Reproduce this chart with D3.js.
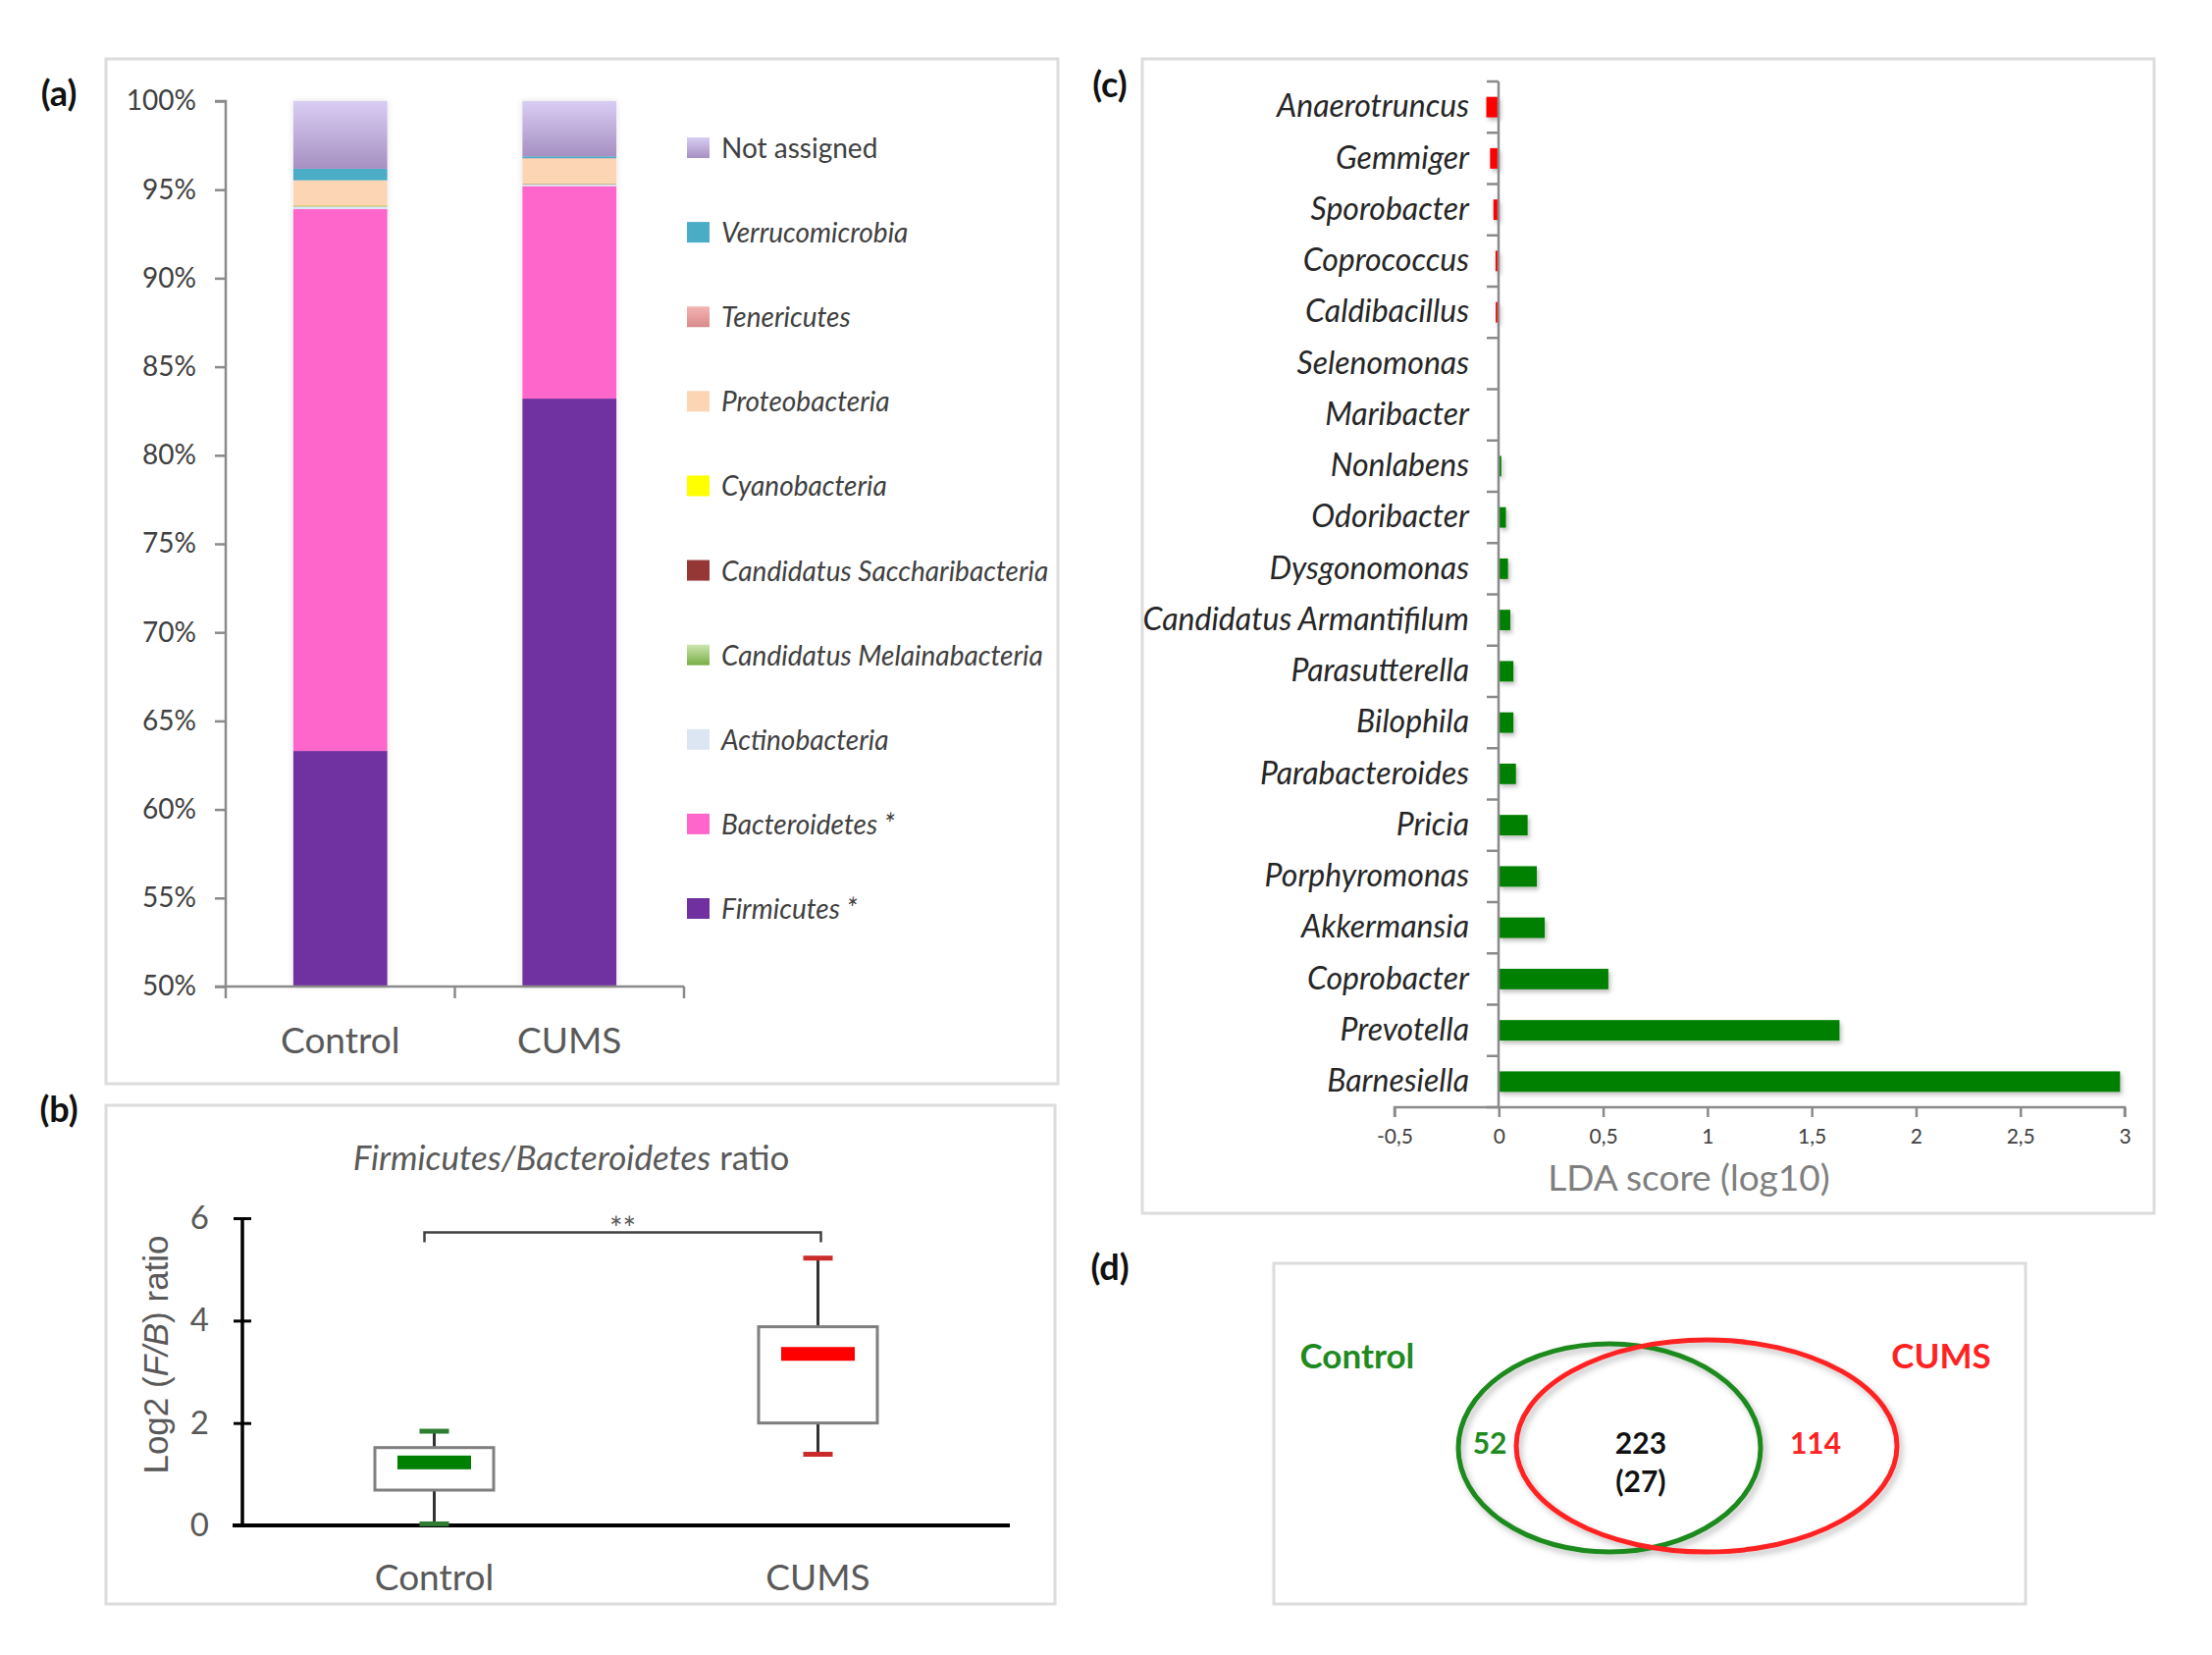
<!DOCTYPE html>
<html><head><meta charset="utf-8">
<script src="https://cdn.jsdelivr.net/npm/d3@7"></script>
<style>
html,body{margin:0;padding:0;background:#fff;}
svg{display:block;font-family:Lato,'Open Sans',sans-serif;}
</style></head>
<body>
<svg id="chart" width="2254" height="1686"></svg>
<script>
// ---------- DATA ----------
// (a) relative abundance of phyla (%), stacked bottom -> top
const groups = ["Control", "CUMS"];
const phyla = ["Firmicutes *", "Bacteroidetes *", "Actinobacteria", "Candidatus Melainabacteria",
  "Candidatus Saccharibacteria", "Cyanobacteria", "Proteobacteria", "Tenericutes", "Verrucomicrobia", "Not assigned"];
const controlPct = [63.3, 30.6, 0.15, 0.02, 0.02, 0.02, 1.4, 0.02, 0.65, 3.82];
const cumsPct    = [83.2, 12.0, 0.10, 0.02, 0.02, 0.02, 1.4, 0.02, 0.10, 3.12];
const pctTicks = [50, 55, 60, 65, 70, 75, 80, 85, 90, 95, 100];

// (b) Firmicutes/Bacteroidetes log2 ratio box plot
const boxGroups = ["Control", "CUMS"];
const boxMin    = [0.03, 1.39];
const boxQ1     = [0.69, 2.00];
const boxMedian = [1.23, 3.35];
const boxQ3     = [1.52, 3.88];
const boxMax    = [1.84, 5.22];
const ratioTicks = [0, 2, 4, 6];
const sigLevel = 5.72;
const sigLabel = "**";

// (c) LDA scores
const genera = ["Anaerotruncus", "Gemmiger", "Sporobacter", "Coprococcus", "Caldibacillus", "Selenomonas",
  "Maribacter", "Nonlabens", "Odoribacter", "Dysgonomonas", "Candidatus Armantifilum", "Parasutterella",
  "Bilophila", "Parabacteroides", "Pricia", "Porphyromonas", "Akkermansia", "Coprobacter", "Prevotella", "Barnesiella"];
const ldaScores = [-0.06, -0.042, -0.026, -0.016, -0.015, 0, 0, 0.012, 0.034, 0.044, 0.055, 0.07,
  0.07, 0.082, 0.138, 0.182, 0.22, 0.525, 1.633, 2.978];
const ldaTicks = [-0.5, 0, 0.5, 1, 1.5, 2, 2.5, 3];

// (d) Venn counts
const vennSets = ["Control", "CUMS"];
const vennUnique = [52, 114];
const vennShared = 223;
const vennSharedSub = 27;

// ---------- STYLES ----------
const phylaColors = ["#7030a0", "#ff66cc", "#dce6f2", "url(#gMel)", "#953735", "#ffff00", "#fcd5b5", "url(#gTen)", "#4bacc6", "url(#gNA)"];
const greenC = "#008000", redC = "#ff0000";
const vennGreen = "#1f8a1f", vennRed = "#ff2222";

const svg = d3.select("#chart");
const defs = svg.append("defs");
function vgrad(id, c1, c2) {
  const g = defs.append("linearGradient").attr("id", id).attr("x1", 0).attr("y1", 0).attr("x2", 0).attr("y2", 1);
  g.append("stop").attr("offset", "0%").attr("stop-color", c1);
  g.append("stop").attr("offset", "100%").attr("stop-color", c2);
}
vgrad("gNA", "#d9cdf3", "#a690c2");
vgrad("gTen", "#f6b4b4", "#d88a8a");
vgrad("gMel", "#cde6b0", "#78ae45");
function shadow(id, dx, dy, sd, op) {
  const f = defs.append("filter").attr("id", id).attr("x", "-20%").attr("y", "-40%").attr("width", "140%").attr("height", "180%");
  f.append("feDropShadow").attr("dx", dx).attr("dy", dy).attr("stdDeviation", sd)
    .attr("flood-color", "#000").attr("flood-opacity", op);
}
shadow("shBar", 0, 0, 3, 0.12);
shadow("shLda", 2, 3, 2, 0.25);
shadow("shVenn", 3, 4, 3, 0.25);

function frame(x0, y0, x1, y1) {
  svg.append("rect").attr("x", x0).attr("y", y0).attr("width", x1 - x0).attr("height", y1 - y0)
    .attr("fill", "#fff").attr("stroke", "#dcdcdc").attr("stroke-width", 3);
}
function panelLabel(t, x, y) {
  svg.append("text").attr("x", x).attr("y", y).attr("text-anchor", "middle")
    .attr("font-size", 36).attr("font-weight", "bold").attr("fill", "#111").text(t);
}

// ================= (a) =================
frame(108, 60, 1078, 1104);
panelLabel("(a)", 60, 108);
{
  const x = d3.scaleBand().domain(groups).range([230, 697]);
  const y = d3.scaleLinear().domain([50, 100]).range([1005, 103]).clamp(true);
  const rows = groups.map((g, i) => {
    const r = { group: g };
    const vals = i === 0 ? controlPct : cumsPct;
    phyla.forEach((p, j) => r[p] = vals[j]);
    return r;
  });
  const series = d3.stack().keys(phyla)(rows);
  const barW = x.bandwidth() * 0.41;
  const gBars = svg.append("g").attr("filter", "url(#shBar)");
  series.forEach((s, k) => {
    gBars.selectAll(null).data(s).join("rect")
      .attr("x", d => x(d.data.group) + (x.bandwidth() - barW) / 2)
      .attr("width", barW)
      .attr("y", d => y(d[1]))
      .attr("height", d => Math.max(0, y(d[0]) - y(d[1])))
      .attr("fill", phylaColors[k]);
  });
  const ax = svg.append("g").attr("transform", "translate(230,0)")
    .call(d3.axisLeft(y).tickValues(pctTicks).tickFormat(d => d + "%").tickSize(11).tickPadding(19));
  ax.selectAll("text").attr("font-size", 28).attr("fill", "#404040").attr("font-family", "Lato");
  const xa = svg.append("g").attr("transform", "translate(0,1005)")
    .call(d3.axisBottom(x).tickSize(0).tickPadding(42));
  xa.selectAll("text").attr("font-size", 37).attr("fill", "#595959").attr("font-family", "Lato");
  const bnd = [x.range()[0], x(groups[1]), x.range()[1]];
  xa.selectAll(".bnd").data(bnd).join("line").attr("x1", d => d).attr("x2", d => d).attr("y1", 0).attr("y2", 12);
  [ax, xa].forEach(a => { a.selectAll("path,line").attr("stroke", "#8a8a8a").attr("stroke-width", 2.5); });
  xa.select(".domain").attr("d", "M230,0H697");
  ax.select(".domain").attr("d", "M-11,103H0V1005H-11");

  const legOrder = phyla.map((p, i) => i).reverse();
  const ly = d3.scalePoint().domain(legOrder).range([151, 926]);
  const lg = svg.append("g");
  legOrder.forEach(i => {
    lg.append("rect").attr("x", 700).attr("y", ly(i) - 11).attr("width", 23).attr("height", 21).attr("fill", phylaColors[i]);
    lg.append("text").attr("x", 735).attr("y", ly(i) + 10).attr("font-size", 28).attr("fill", "#404040")
      .attr("font-style", phyla[i] === "Not assigned" ? "normal" : "italic").text(phyla[i]);
  });
}

// ================= (b) =================
frame(108, 1126, 1075, 1634);
panelLabel("(b)", 60, 1143);
{
  const x = d3.scaleBand().domain(boxGroups).range([247, 1029]);
  const y = d3.scaleLinear().domain([0, 6]).range([1554, 1241]);
  const t = svg.append("text").attr("x", 582).attr("y", 1192).attr("text-anchor", "middle")
    .attr("font-size", 35).attr("fill", "#595959");
  t.append("tspan").attr("font-style", "italic").text("Firmicutes/Bacteroidetes");
  t.append("tspan").text(" ratio");

  const ax = svg.append("g").attr("transform", "translate(247,0)")
    .call(d3.axisLeft(y).tickValues(ratioTicks).tickFormat(d3.format("d")).tickSize(10).tickPadding(24));
  ax.selectAll("text").attr("font-size", 33).attr("fill", "#595959").attr("font-family", "Lato");
  ax.selectAll(".tick line").attr("x1", 9).attr("x2", -9).attr("stroke", "#000").attr("stroke-width", 3);
  ax.select(".domain").attr("d", "M0,1241V1554").attr("stroke", "#000").attr("stroke-width", 3.5);

  const xa = svg.append("g").attr("transform", "translate(0,1554)")
    .call(d3.axisBottom(x).tickSize(0).tickPadding(40));
  xa.select(".domain").attr("d", "M237,0H1029").attr("stroke", "#000").attr("stroke-width", 4);
  xa.selectAll("text").attr("font-size", 37).attr("fill", "#595959").attr("font-family", "Lato");

  const yl = svg.append("text").attr("transform", "translate(158,1380) rotate(-90)").attr("text-anchor", "middle")
    .attr("dominant-baseline", "central")
    .attr("font-size", 35).attr("fill", "#595959").attr("font-family", "'Liberation Sans',Arial,sans-serif");
  yl.append("tspan").text("Log2 (");
  yl.append("tspan").attr("font-style", "italic").text("F/B");
  yl.append("tspan").text(") ratio");

  const boxW = 121, medW = 75, capW = 30;
  boxGroups.forEach((g, i) => {
    const cx = x(g) + x.bandwidth() / 2;
    const col = i === 0 ? greenC : redC;
    const capCol = i === 0 ? "#2e7d32" : "#cc2b2b";
    const gg = svg.append("g");
    gg.append("line").attr("x1", cx).attr("x2", cx).attr("y1", y(boxMax[i])).attr("y2", y(boxQ3[i])).attr("stroke", "#333").attr("stroke-width", 3);
    gg.append("line").attr("x1", cx).attr("x2", cx).attr("y1", y(boxQ1[i])).attr("y2", y(boxMin[i])).attr("stroke", "#333").attr("stroke-width", 3);
    [boxMax[i], boxMin[i]].forEach(v => gg.append("line").attr("x1", cx - capW / 2).attr("x2", cx + capW / 2)
      .attr("y1", y(v)).attr("y2", y(v)).attr("stroke", capCol).attr("stroke-width", 5));
    gg.append("rect").attr("x", cx - boxW / 2).attr("width", boxW).attr("y", y(boxQ3[i])).attr("height", y(boxQ1[i]) - y(boxQ3[i]))
      .attr("fill", "#fff").attr("stroke", "#7f7f7f").attr("stroke-width", 3);
    gg.append("rect").attr("x", cx - medW / 2).attr("width", medW).attr("y", y(boxMedian[i]) - 7).attr("height", 14).attr("fill", col);
  });
  const bx0 = x(boxGroups[0]) + x.bandwidth() / 2 - 10, bx1 = x(boxGroups[1]) + x.bandwidth() / 2 + 3;
  svg.append("path").attr("d", `M${bx0},${y(sigLevel) + 10}V${y(sigLevel)}H${bx1}V${y(sigLevel) + 10}`)
    .attr("fill", "none").attr("stroke", "#404040").attr("stroke-width", 2.5);
  svg.append("text").attr("x", (bx0 + bx1) / 2).attr("y", y(sigLevel) + 7).attr("text-anchor", "middle")
    .attr("font-size", 32).attr("fill", "#595959").text(sigLabel);
}

// ================= (c) =================
frame(1164, 60, 2195, 1236);
panelLabel("(c)", 1131, 99);
{
  const x = d3.scaleLinear().domain([-0.5, 3]).range([1421, 2165]);
  const y = d3.scaleBand().domain(genera).range([83, 1128]).paddingInner(0.6).paddingOuter(0.3);
  const gb = svg.append("g").attr("filter", "url(#shLda)");
  gb.selectAll("rect").data(genera).join("rect")
    .attr("x", (d, i) => Math.min(x(0), x(ldaScores[i])))
    .attr("width", (d, i) => Math.abs(x(ldaScores[i]) - x(0)))
    .attr("y", d => y(d)).attr("height", y.bandwidth())
    .attr("fill", (d, i) => ldaScores[i] < 0 ? redC : greenC);

  const xa = svg.append("g").attr("transform", "translate(0,1128)")
    .call(d3.axisBottom(x).tickValues(ldaTicks).tickSize(10).tickPadding(12)
      .tickFormat(d => String(d).replace(".", ",")));
  xa.selectAll("text").attr("font-size", 21).attr("fill", "#404040").attr("font-family", "Lato");
  xa.selectAll("path,line").attr("stroke", "#8a8a8a").attr("stroke-width", 2.5);
  xa.select(".domain").attr("d", "M1421,10V0H2165V10");

  const ya = svg.append("g").attr("transform", "translate(1527,0)")
    .call(d3.axisLeft(y).tickSize(0).tickPadding(30));
  ya.selectAll("text").attr("font-size", 32).attr("font-style", "italic").attr("fill", "#262626").attr("font-family", "Lato");
  ya.select(".domain").attr("d", "M0,83V1128").attr("stroke", "#8a8a8a").attr("stroke-width", 2.5);
  const half = (y.step() - y.bandwidth()) / 2;
  const bounds = genera.map(g => y(g) - half).concat([y.range()[1]]);
  ya.selectAll(".bnd").data(bounds).join("line").attr("x1", -12).attr("x2", 0)
    .attr("y1", d => d).attr("y2", d => d).attr("stroke", "#8a8a8a").attr("stroke-width", 2.5);

  svg.append("text").attr("x", 1721).attr("y", 1213).attr("text-anchor", "middle")
    .attr("font-size", 37).attr("fill", "#7f7f7f").text("LDA score (log10)");
}

// ================= (d) =================
frame(1298, 1287, 2064, 1634);
panelLabel("(d)", 1131, 1304);
{
  const u = d3.scaleLinear().domain([-1, 1]).range([1500, 1880]);
  const v = d3.scaleLinear().domain([-1, 1]).range([1366, 1582]);
  const ell = [
    { cx: -0.263, cy: 0.009, rx: 154, ry: 106, col: vennGreen },
    { cx: 0.258, cy: -0.009, rx: 194, ry: 108, col: vennRed }
  ];
  const ge = svg.append("g").attr("filter", "url(#shVenn)");
  ell.forEach(e => ge.append("ellipse").attr("cx", u(e.cx)).attr("cy", v(e.cy)).attr("rx", e.rx).attr("ry", e.ry)
    .attr("fill", "none").attr("stroke", e.col).attr("stroke-width", 5));
  const lbl = (t, cx, cy, col, fs) => svg.append("text").attr("x", u(cx)).attr("y", v(cy)).attr("text-anchor", "middle")
    .attr("dominant-baseline", "central").attr("font-weight", "bold").attr("font-size", fs).attr("fill", col).text(t);
  lbl(vennSets[0], -1.616, -0.87, vennGreen, 35);
  lbl(vennSets[1], 1.516, -0.87, vennRed, 35);
  lbl(vennUnique[0], -0.905, -0.046, vennGreen, 30);
  lbl(vennShared, -0.095, -0.046, "#111", 30);
  lbl("(" + vennSharedSub + ")", -0.095, 0.315, "#111", 30);
  lbl(vennUnique[1], 0.842, -0.046, vennRed, 30);
}
</script>
</body></html>
